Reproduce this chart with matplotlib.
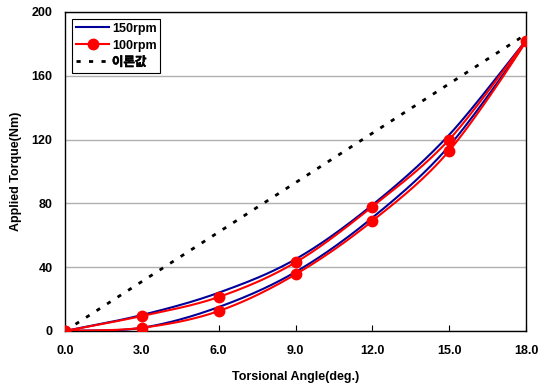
import numpy as np
import matplotlib
matplotlib.use("Agg")
import matplotlib.pyplot as plt
import matplotlib.patheffects as pe

angle = [0, 3, 6, 9, 12, 15, 18, 15, 12, 9, 6, 3, 0]
torque_150 = [0, 10, 24, 45, 79, 123, 182, 116, 71, 37, 15, 2, 0]
torque_100 = [0, 9.4, 21.3, 43, 78, 120, 182, 113, 69, 35.5, 12.5, 2, 0]
theory_x = [0, 18]
theory_y = [0, 186]

xticks = [0, 3, 6, 9, 12, 15, 18]
yticks = [0, 40, 80, 120, 160, 200]


def smooth(xs, ys, n=30):
    p = np.column_stack([xs, ys]).astype(float)
    p = np.vstack([p[0] * 2 - p[1], p, p[-1] * 2 - p[-2]])
    out = []
    t = np.linspace(0, 1, n)[:, None]
    for i in range(1, len(p) - 2):
        p0, p1, p2, p3 = p[i - 1], p[i], p[i + 1], p[i + 2]
        seg = 0.5 * ((2 * p1) + (-p0 + p2) * t + (2 * p0 - 5 * p1 + 4 * p2 - p3) * t ** 2
                     + (-p0 + 3 * p1 - 3 * p2 + p3) * t ** 3)
        out.append(seg if i == 1 else seg[1:])
    s = np.vstack(out)
    return s[:, 0], s[:, 1]


FAM = ["Liberation Sans", "Noto Sans CJK KR"]
FS = 9

fig = plt.figure(figsize=(5.45, 3.85), dpi=100)
ax = fig.add_axes([0.1193, 0.1403, 0.8459, 0.8286])

bx, by = smooth(angle, torque_150)
ax.plot(bx, by, color="#000099", lw=1.5, label="150rpm", zorder=3)
rx, ry = smooth(angle, torque_100)
ax.plot(rx, ry, color="#ff0000", lw=1.5, zorder=4)
ax.plot(angle, torque_100, ls="none", marker="o", ms=7.5, color="#ff0000", zorder=5)
ax.plot([], [], color="#ff0000", lw=1.5, marker="o", ms=7.5, label="100rpm")
ax.plot(theory_x, theory_y, color="black", ls=(0, (1.5, 3)), lw=2, label="이론값", zorder=2)

ax.set_xlim(0, 18)
ax.set_ylim(0, 200)
ax.set_xticks(xticks)
ax.set_xticklabels([f"{v:.1f}" for v in xticks])
ax.set_yticks(yticks)
ax.set_yticklabels([str(v) for v in yticks])
ax.yaxis.grid(True, color="#b0b0b0", lw=1)
ax.set_axisbelow(True)
for s in ax.spines.values():
    s.set_color("black")
    s.set_linewidth(1)
ax.tick_params(axis="x", direction="in", length=4, pad=10)
ax.tick_params(axis="y", length=0, pad=9)
for lab in ax.get_xticklabels() + ax.get_yticklabels():
    lab.set_fontfamily(FAM)
    lab.set_fontweight("bold")
    lab.set_fontsize(FS)
fp = dict(family=FAM, weight="bold", size=FS)
ax.set_xlabel("Torsional Angle(deg.)", fontdict=fp, labelpad=10)
ax.set_ylabel("Applied Torque(Nm)", fontdict=fp, labelpad=7)

leg = ax.legend(loc="upper left", bbox_to_anchor=(0.015, 0.978), frameon=True, fancybox=False,
                edgecolor="black", framealpha=1, handlelength=2.7, handletextpad=0.2,
                borderpad=0.3, labelspacing=0.4, borderaxespad=0,
                prop=dict(family=FAM, weight="bold", size=FS))
leg.get_frame().set_linewidth(0.8)
leg.get_texts()[2].set_path_effects([pe.withStroke(linewidth=0.4, foreground="black")])

fig.savefig("out.png", dpi=100)
